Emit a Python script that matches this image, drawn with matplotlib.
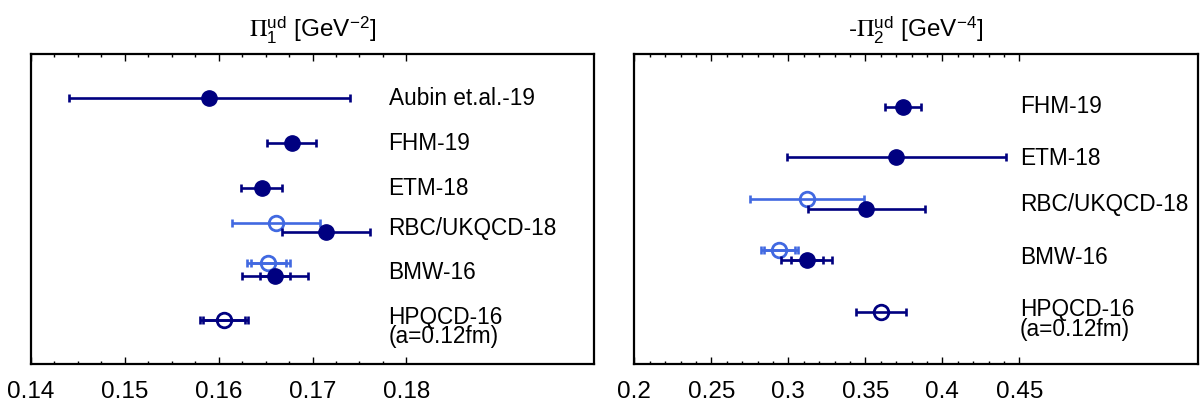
import numpy as np
import matplotlib
matplotlib.use('Agg')
import matplotlib.pyplot as plt
from matplotlib.ticker import FixedLocator, FixedFormatter

plt.rcParams['font.family'] = ['Liberation Sans', 'DejaVu Sans']
plt.rcParams['mathtext.fontset'] = 'stix'

NAN = np.nan

# ---------------- data: Pi_1^ud [GeV^-2] ----------------
p1_labels = ["Aubin et.al.-19", "FHM-19", "ETM-18", "RBC/UKQCD-18", "BMW-16",
             "HPQCD-16\n(a=0.12fm)"]
p1_dark_val = [0.1590, 0.1678, 0.1646, 0.1714, 0.1660, 0.16055]
p1_dark_err = [0.0150, 0.0026, 0.0022, 0.0047, 0.0035, 0.00255]
p1_dark_inner = [0.0, 0.0, 0.0, 0.0, 0.0016, 0.00225]
p1_dark_open = [False, False, False, False, False, True]
p1_light_val = [NAN, NAN, NAN, 0.1661, 0.1653, NAN]
p1_light_err = [NAN, NAN, NAN, 0.0047, 0.0023, NAN]
p1_light_inner = [0.0, 0.0, 0.0, 0.0, 0.0019, 0.0]
p1_ticks = [0.14, 0.15, 0.16, 0.17, 0.18]
p1_ticklabels = ["0.14", "0.15", "0.16", "0.17", "0.18"]

# ---------------- data: -Pi_2^ud [GeV^-4] ----------------
p2_labels = ["FHM-19", "ETM-18", "RBC/UKQCD-18", "BMW-16", "HPQCD-16\n(a=0.12fm)"]
p2_dark_val = [0.3745, 0.3701, 0.3506, 0.3119, 0.3601]
p2_dark_err = [0.0115, 0.0712, 0.0380, 0.0166, 0.0160]
p2_dark_inner = [0.0, 0.0, 0.0, 0.0103, 0.0]
p2_dark_open = [False, False, False, False, True]
p2_light_val = [NAN, NAN, 0.3121, 0.2942, NAN]
p2_light_err = [NAN, NAN, 0.0371, 0.0119, NAN]
p2_light_inner = [0.0, 0.0, 0.0, 0.0099, 0.0]
p2_ticks = [0.2, 0.25, 0.3, 0.35, 0.4, 0.45]
p2_ticklabels = ["0.2", "0.25", "0.3", "0.35", "0.4", "0.45"]

# ---------------- layout (axes-fraction row positions) ----------------
p1_y_dark = [0.857, 0.712, 0.567, 0.427, 0.285, 0.142]
p1_y_light = [NAN, NAN, NAN, 0.456, 0.325, NAN]
p1_y_text = [0.857, 0.712, 0.567, 0.437, 0.294, 0.119]
p2_y_dark = [0.830, 0.667, 0.499, 0.334, 0.168]
p2_y_light = [NAN, NAN, 0.531, 0.367, NAN]
p2_y_text = [0.830, 0.662, 0.514, 0.343, 0.144]

DARK = '#000080'
LIGHT = '#4169E1'

W, H = 1203, 408
fig = plt.figure(figsize=(W / 100, H / 100), dpi=100)
ax1 = fig.add_axes([31 / W, 44 / H, 563 / W, 310 / H])
ax2 = fig.add_axes([634.3 / W, 44 / H, 563.7 / W, 310 / H])


def draw_point(ax, x, y, err, inner, color, open_marker, z):
    if np.isnan(x):
        return
    ax.errorbar([x], [y], xerr=[err], fmt='none', ecolor=color, elinewidth=1.9,
                capsize=3.0, capthick=1.9, zorder=z)
    if inner > 0:
        ax.errorbar([x], [y], xerr=[inner], fmt='none', ecolor=color, elinewidth=1.9,
                    capsize=3.0, capthick=1.9, zorder=z)
    if open_marker:
        ax.plot([x], [y], 'o', ms=10.5, mfc='none', mec=color, mew=2.0, zorder=z + 0.5)
    else:
        ax.plot([x], [y], 'o', ms=11, mfc=color, mec=color, mew=1.0, zorder=z + 0.5)


def setup(ax, xlim, ticks, ticklabels, minor, title):
    ax.set_xlim(*xlim)
    ax.set_ylim(0, 1)
    ax.xaxis.set_major_locator(FixedLocator(ticks))
    ax.xaxis.set_major_formatter(FixedFormatter(ticklabels))
    ax.xaxis.set_minor_locator(FixedLocator(minor))
    ax.set_yticks([])
    ax.tick_params(axis='x', which='both', direction='in', top=True, bottom=True,
                   labelsize=17.5, pad=12, width=1.0)
    ax.tick_params(axis='x', which='major', length=4.8)
    ax.tick_params(axis='x', which='minor', length=2.4)
    for s in ax.spines.values():
        s.set_linewidth(1.6)
    ax.set_title(title, fontsize=17.5, pad=12)


# left panel
for i in range(len(p1_labels)):
    draw_point(ax1, p1_light_val[i], p1_y_light[i], p1_light_err[i], p1_light_inner[i],
               LIGHT, True, 2)
    draw_point(ax1, p1_dark_val[i], p1_y_dark[i], p1_dark_err[i], p1_dark_inner[i],
               DARK, p1_dark_open[i], 3)
    ax1.text(0.1781, p1_y_text[i], p1_labels[i], fontsize=16.3, va='center', ha='left',
             linespacing=0.82)
setup(ax1, (0.14, 0.20), p1_ticks, p1_ticklabels, np.arange(0.14, 0.18001, 0.0025),
      r'$\Pi_{\mathregular{1}}^{\mathregular{ud}}$ [GeV$^{\mathregular{-2}}$]')

# right panel
for i in range(len(p2_labels)):
    draw_point(ax2, p2_light_val[i], p2_y_light[i], p2_light_err[i], p2_light_inner[i],
               LIGHT, True, 2)
    draw_point(ax2, p2_dark_val[i], p2_y_dark[i], p2_dark_err[i], p2_dark_inner[i],
               DARK, p2_dark_open[i], 3)
    ax2.text(0.4505, p2_y_text[i], p2_labels[i], fontsize=16.3, va='center', ha='left',
             linespacing=0.82)
setup(ax2, (0.2, 0.566), p2_ticks, p2_ticklabels, np.arange(0.2, 0.45001, 0.01),
      r'-$\Pi_{\mathregular{2}}^{\mathregular{ud}}$ [GeV$^{\mathregular{-4}}$]')

fig.savefig('out.png', dpi=100)
